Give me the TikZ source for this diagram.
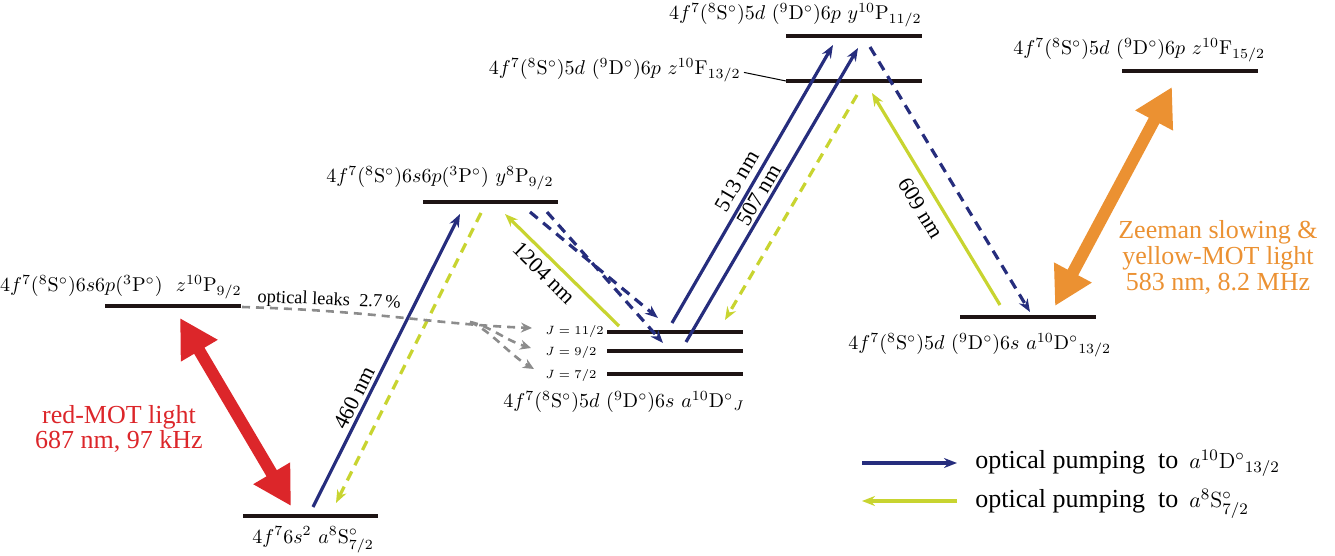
\documentclass[tikz,border=0pt]{standalone}
\usepackage{fontspec}
\newfontfamily\tms{Liberation Serif}
\usetikzlibrary{arrows.meta}
\definecolor{navy}{RGB}{38,45,125}
\definecolor{lime}{RGB}{200,212,48}
\definecolor{mred}{RGB}{220,38,42}
\definecolor{morange}{RGB}{235,145,50}
\definecolor{lvl}{RGB}{30,20,20}
\definecolor{leakgray}{RGB}{140,140,140}
\tikzset{
  level/.style={line width=2pt, draw=lvl},
  lab/.style={font=\fontsize{10}{12}\selectfont, inner sep=0pt},
  jlab/.style={font=\fontsize{6.5}{8}\selectfont, inner sep=0pt},
  wl/.style={font=\tms\fontsize{11}{12}\selectfont, inner sep=0pt},
  pump/.style={line width=1.6pt, -{Stealth[length=6.5pt,width=5pt]}},
  dsh/.style={dash pattern=on 5pt off 3.5pt},
  leak/.style={draw=leakgray, line width=1.3pt, dash pattern=on 4pt off 3pt, -{Stealth[length=5.5pt,width=5pt]}},
  big/.style={line width=6pt, {Triangle[length=19pt,width=20pt]}-{Triangle[length=19pt,width=20pt]}}
}
\begin{document}
\begin{tikzpicture}[x=0.5pt,y=-0.5pt]
\useasboundingbox (0,0) rectangle (1335,556);

% ---- levels
\draw[level] (243,516) -- (378,516);
\draw[level] (105,306) -- (241,306);
\draw[level] (423,202) -- (558,202);
\draw[level] (607,332) -- (743,332);
\draw[level] (607,351) -- (743,351);
\draw[level] (607,374) -- (743,374);
\draw[level] (786,81) -- (922,81);
\draw[level] (786,36) -- (922,36);
\draw[level] (960,317) -- (1096,317);
\draw[level] (1122,71) -- (1258,71);

% ---- level labels
\node[lab, anchor=base west] (lg) at (252,543) {$4f^7 6s^2\ a^8\mathrm{S}^\circ_{7/2}$};
\node[lab, anchor=base east] (lzP) at (242,292) {$4f^7(^8\mathrm{S}^\circ)6s6p(^3\mathrm{P}^\circ)\ \ z^{10}\mathrm{P}_{9/2}$};
\node[lab, anchor=base east] (lyP) at (554,183) {$4f^7(^8\mathrm{S}^\circ)6s6p(^3\mathrm{P}^\circ)\ y^8\mathrm{P}_{9/2}$};
\node[lab, anchor=base west] (lDJ) at (503,408) {$4f^7(^8\mathrm{S}^\circ)5d\ (^9\mathrm{D}^\circ)6s\ a^{10}{\mathrm{D}^\circ}_J$};
\node[lab, anchor=base east] (lF13) at (741,75) {$4f^7(^8\mathrm{S}^\circ)5d\ (^9\mathrm{D}^\circ)6p\ z^{10}\mathrm{F}_{13/2}$};
\node[lab, anchor=base east] (lP11) at (922,20) {$4f^7(^8\mathrm{S}^\circ)5d\ (^9\mathrm{D}^\circ)6p\ y^{10}\mathrm{P}_{11/2}$};
\node[lab, anchor=base west] (lD13) at (848,350) {$4f^7(^8\mathrm{S}^\circ)5d\ (^9\mathrm{D}^\circ)6s\ a^{10}{\mathrm{D}^\circ}_{13/2}$};
\node[lab, anchor=base west] (lF15) at (1013,55) {$4f^7(^8\mathrm{S}^\circ)5d\ (^9\mathrm{D}^\circ)6p\ z^{10}\mathrm{F}_{15/2}$};
\coordinate (F13l) at (786,81);
\draw[line width=0.5pt] ([xshift=1.5pt,yshift=-1pt]lF13.east) -- (F13l);

\node[jlab, anchor=base west] (J11) at (545,335) {$J=11/2$};
\node[jlab, anchor=base west] (J9) at (545,355) {$J=9/2$};
\node[jlab, anchor=base west] (J7) at (545,378) {$J=7/2$};

% ---- transitions
\draw[pump, navy] (313,507) -- (460,214);
\draw[pump, lime, dsh] (481,213) -- (336,503);
\draw[pump, lime] (619,326) -- (505,214);
\draw[pump, navy, dsh] (530,212) -- (658,318);
\draw[pump, navy, dsh] (547,212) -- (663,343);
\draw[pump, navy] (672,323) -- (833,45);
\draw[pump, navy] (686,342) -- (858,48);
\draw[pump, lime, dsh] (857,95) -- (725,320);
\draw[pump, lime] (1000,305) -- (872,93);
\draw[pump, navy, dsh] (870,47) -- (1030,312);

\node[wl, rotate=63.2] (w460) at (354,398) {460 nm};
\node[wl, rotate=-44.5] (w1204) at (544,273) {1204 nm};
\node[wl, rotate=59.8] (w513) at (737,181) {513 nm};
\node[wl, rotate=59.7] (w507) at (759,195) {507 nm};
\node[wl, rotate=-58.9] (w609) at (921,208) {609 nm};

% ---- optical leaks
\draw[leak] (242,307) .. controls (380,311) and (430,324) .. (532,328);
\coordinate (lb) at (470,322);
\draw[leak] (lb) .. controls (490,326) and (505,340) .. (531,348);
\draw[leak] (lb) .. controls (490,330) and (510,355) .. (534,369);
\node[anchor=base west, inner sep=0pt, rotate=-2.4, font=\tms\fontsize{9.2}{11}\selectfont] (leaks) at (257,302) {optical leaks\ \ 2.7\,\%};

% ---- thick arrows
\draw[big, mred] (180,318) -- (291,506);
\draw[big, morange] (1055,306) -- (1172,87);
\node[align=center, inner sep=0pt, mred, font=\tms\fontsize{13}{12.5}\selectfont] (redlab) at (119,429) {red-MOT light\\687 nm, 97 kHz};
\node[align=center, inner sep=0pt, morange, font=\tms\fontsize{13}{13}\selectfont] (orlab) at (1218,257) {Zeeman slowing \&\\yellow-MOT light\\583 nm, 8.2 MHz};

% ---- legend
\coordinate (la1) at (862,463); \coordinate (la2) at (957,463);
\coordinate (lb1) at (957,501); \coordinate (lb2) at (862,501);
\draw[pump, navy] (la1) -- (la2);
\draw[pump, lime] (lb1) -- (lb2);
\node[anchor=base west, inner sep=0pt, font=\tms\fontsize{13}{15}\selectfont] (leg1) at (975,468) {optical pumping\ \ to\hspace{5.5pt}{\fontsize{11}{12}\selectfont$a^{10}{\mathrm{D}^\circ}_{13/2}$}};
\node[anchor=base west, inner sep=0pt, font=\tms\fontsize{13}{15}\selectfont] (leg2) at (975,507) {optical pumping\ \ to\hspace{5.5pt}{\fontsize{11}{12}\selectfont$a^{8}\mathrm{S}^\circ_{7/2}$}};
\end{tikzpicture}
\end{document}
